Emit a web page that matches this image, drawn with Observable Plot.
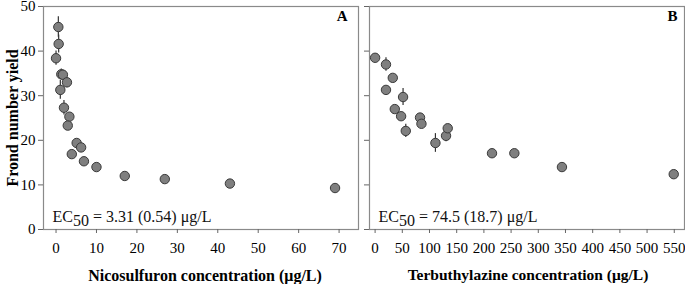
<!DOCTYPE html>
<html>
<head>
<meta charset="utf-8">
<script src="https://cdn.jsdelivr.net/npm/d3@7"></script>
<script src="https://cdn.jsdelivr.net/npm/@observablehq/plot@0.6"></script>
<style>
  body { margin: 0; background: #fff; }
  #wrap { display: flex; width: 685px; height: 284px; }
  #wrap svg text { font-family: "Liberation Serif", "Times New Roman", serif; }
</style>
</head>
<body>
<div id="wrap"></div>
<script>
// Panel A: nicosulfuron
const nicoConc  = [0, 0.57, 0.65, 1.06, 1.3, 1.7, 2.7, 1.96, 3.3, 2.9, 5.1, 6.2, 3.9, 6.9, 10.0, 17.0, 26.9, 43.0, 69.0];
const nicoYield = [38.4, 45.4, 41.6, 31.3, 34.8, 34.7, 33.0, 27.3, 25.3, 23.3, 19.4, 18.4, 16.9, 15.3, 14.0, 12.0, 11.3, 10.3, 9.3];
const nicoErr   = [1.6, 2.3, 2.0, 2.1, 1.2, 1.0, 1.2, 1.6, 0.8, 0.8, 0.5, 0.5, 0.5, 0.5, 0.5, 0.5, 0.5, 0.5, 0.5];

// Panel B: terbuthylazine
const terbConc  = [0, 20, 32.5, 20, 51.4, 36.2, 47.8, 56.4, 82.6, 85.2, 110.9, 130.4, 133.5, 214.9, 256, 343.5, 549];
const terbYield = [38.5, 37.0, 34.0, 31.3, 29.7, 27.0, 25.4, 22.1, 25.1, 23.7, 19.4, 21.0, 22.7, 17.1, 17.1, 14.0, 12.4];
const terbErr   = [0.5, 1.5, 0.5, 0.5, 1.9, 0.5, 0.5, 1.5, 0.5, 0.5, 2.1, 1.3, 0.5, 0.5, 0.5, 0.5, 0.8];

const yTicks  = [0, 10, 20, 30, 40, 50];
const xTicksA = [0, 10, 20, 30, 40, 50, 60, 70];
const xTicksB = [0, 50, 100, 150, 200, 250, 300, 350, 400, 450, 500, 550];

const yLabel  = "Frond number yield";
const xLabelA = "Nicosulfuron concentration (μg/L)";
const xLabelB = "Terbuthylazine concentration (μg/L)";
const ecA = ["EC", "50", " = 3.31 (0.54) μg/L"];
const ecB = ["EC", "50", " = 74.5 (18.7) μg/L"];

const rows = (xs, ys, es) => xs.map((x, i) => ({x, y: ys[i], lo: ys[i] - es[i], hi: ys[i] + es[i]}));
const dataA = rows(nicoConc, nicoYield, nicoErr);
const dataB = rows(terbConc, terbYield, terbErr);

const font = "Liberation Serif";

function panel({data, width, marginLeft, marginRight, xDomain, xTicks, showY, xLabel, xLabelDx, xLabelSize, ec, letter, letterDx}) {
  const marks = [
    Plot.frame({stroke: "#8a8a8a", strokeWidth: 1.2}),
    Plot.axisY({ticks: yTicks, tickSize: 5, tickPadding: 3, label: null, stroke: "#666",
                tickFormat: showY ? (d => d) : (() => ""), fontSize: 15, fontFamily: font}),
    Plot.axisX({ticks: xTicks, tickSize: 4, tickPadding: 9, label: null, stroke: "#666", fontSize: 15, fontFamily: font}),
    Plot.ruleX(data, {x: "x", y1: "lo", y2: "hi", stroke: "#333", strokeWidth: 1.2}),
    Plot.dot(data, {x: "x", y: "y", r: 4.7, fill: "#7f7f7f", stroke: "#3a3a3a", strokeWidth: 1}),
    Plot.text([ec.join("")], {frameAnchor: "bottom-left", textAnchor: "start", lineAnchor: "bottom",
                dx: 9, dy: -8, fontSize: 16, fill: "#111", fontFamily: font}),
    Plot.text([letter], {frameAnchor: "top-right", textAnchor: "end", lineAnchor: "top",
                dx: letterDx, dy: 4, fontSize: 15, fontWeight: "bold", fill: "#000", fontFamily: font}),
    Plot.text([xLabel], {frameAnchor: "bottom", textAnchor: "middle", lineAnchor: "middle", dx: xLabelDx, dy: 46,
                fontSize: xLabelSize, fontWeight: "bold", fill: "#000", fontFamily: font})
  ];
  if (showY) {
    marks.push(Plot.text([yLabel], {frameAnchor: "left", textAnchor: "middle", rotate: -90, lineAnchor: "middle", dx: -31,
                fontSize: 16, fontWeight: "bold", fill: "#000", fontFamily: font}));
  }
  const svg = Plot.plot({
    width, height: 284,
    marginLeft, marginRight, marginTop: 6, marginBottom: 55,
    style: {fontFamily: font, fontSize: "15px", color: "#000", background: "white", overflow: "visible"},
    x: {domain: xDomain},
    y: {domain: [0, 50]},
    marks
  });
  // Subscript for EC50
  d3.select(svg).selectAll("text").each(function() {
    const t = d3.select(this);
    if (this.textContent === ec.join("") && !this.querySelector("tspan")) {
      t.text(null);
      t.append("tspan").text(ec[0]);
      t.append("tspan").attr("dy", "0.3em").text(ec[1]);
      t.append("tspan").attr("dy", "-0.3em").text(ec[2]);
    }
  });
  return svg;
}

const wrap = document.getElementById("wrap");
wrap.appendChild(panel({data: dataA, width: 362, marginLeft: 43, marginRight: 4,
  xDomain: [-3.1, 74.8], xTicks: xTicksA, showY: true, xLabel: xLabelA, xLabelDx: 4, xLabelSize: 16,
  ec: ecA, letter: "A", letterDx: -11}));
wrap.appendChild(panel({data: dataB, width: 323, marginLeft: 7, marginRight: 1,
  xDomain: [-10.3, 568.8], xTicks: xTicksB, showY: false, xLabel: xLabelB, xLabelDx: 1, xLabelSize: 15.5,
  ec: ecB, letter: "B", letterDx: -7}));
</script>
</body>
</html>
